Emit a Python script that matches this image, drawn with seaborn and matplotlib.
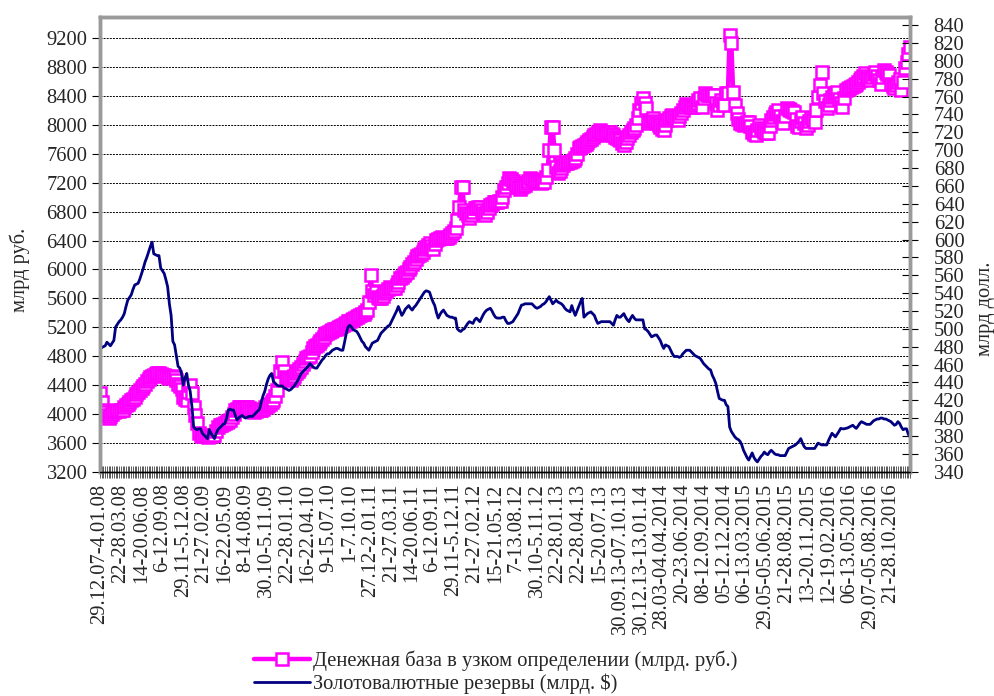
import pandas as pd
import matplotlib
matplotlib.use('Agg')
import matplotlib.pyplot as plt
from matplotlib.ticker import MultipleLocator
import seaborn as sns

# weekly values (12 weeks per row, one row per x label)
base_rub = [
    4285, 4170, 4050, 4030, 3990, 3940, 3970, 4000, 4020, 4040, 4050, 4040,
    4060, 4060, 4090, 4120, 4140, 4170, 4190, 4210, 4240, 4270, 4300, 4330,
    4360, 4390, 4420, 4460, 4490, 4510, 4520, 4540, 4550, 4560, 4560, 4550,
    4540, 4540, 4520, 4510, 4500, 4510, 4520, 4515, 4470, 4420, 4380, 4350,
    4240, 4200, 4190, 4300, 4400, 4285, 4100, 3980, 3870, 3730, 3710, 3700,
    3700, 3690, 3685, 3690, 3700, 3705, 3710, 3760, 3820, 3840, 3850, 3860,
    3870, 3890, 3900, 3920, 3960, 4000, 4050, 4070, 4090, 4100, 4100, 4100,
    4090, 4100, 4080, 4060, 4040, 4030, 4040, 4050, 4050, 4055, 4070, 4090,
    4110, 4120, 4140, 4170, 4190, 4250, 4330, 4470, 4600, 4720, 4600, 4515,
    4500, 4480, 4470, 4500, 4530, 4560, 4590, 4620, 4650, 4690, 4730, 4770,
    4790, 4800, 4860, 4910, 4940, 4960, 4980, 5010, 5040, 5070, 5100, 5120,
    5140, 5150, 5160, 5170, 5180, 5190, 5200, 5215, 5230, 5240, 5260, 5280,
    5290, 5305, 5320, 5330, 5340, 5355, 5370, 5380, 5390, 5410, 5440, 5550,
    5920, 5700, 5650, 5690, 5620, 5600, 5600, 5630, 5670, 5700, 5730, 5760,
    5750, 5740, 5740, 5780, 5830, 5880, 5900, 5920, 5950, 5970, 6000, 6040,
    6080, 6110, 6150, 6180, 6200, 6220, 6245, 6280, 6310, 6340, 6360, 6320,
    6290, 6350, 6410, 6420, 6440, 6450, 6440, 6430, 6430, 6450, 6480, 6500,
    6530, 6570, 6680, 6870, 7140, 7140, 6820, 6780, 6750, 6710, 6760, 6800,
    6845, 6850, 6860, 6870, 6820, 6780, 6750, 6800, 6850, 6890, 6910, 6930,
    6940, 6940, 6945, 6950, 7000, 7100, 7144, 7200, 7260, 7250, 7230, 7200,
    7170, 7140, 7120, 7140, 7160, 7168, 7200, 7230, 7260, 7250, 7240, 7230,
    7214, 7210, 7200, 7210, 7214, 7280, 7376, 7650, 7975, 7975, 7650, 7420,
    7330, 7360, 7400, 7440, 7470, 7480, 7485, 7490, 7500, 7520, 7540, 7600,
    7680, 7700, 7710, 7720, 7740, 7765, 7790, 7810, 7840, 7860, 7880, 7910,
    7930, 7900, 7870, 7860, 7880, 7900, 7906, 7880, 7860, 7837, 7820, 7800,
    7790, 7750, 7720, 7770, 7820, 7860, 7900, 7930, 7960, 7998, 8100, 8206,
    8300, 8368, 8300, 8229, 8022, 8050, 8070, 8091, 8060, 8030, 7998, 7970,
    7950, 7929, 8000, 8067, 8100, 8120, 8137, 8110, 8090, 8067, 8120, 8160,
    8206, 8250, 8298, 8280, 8260, 8250, 8251, 8280, 8310, 8340, 8368, 8251,
    8380, 8437, 8414, 8414, 8414, 8414, 8414, 8300, 8206, 8280, 8344, 8310,
    8275, 8437, 8440, 9244, 9129, 8460, 8275, 8160, 8080, 8022, 8010, 7998,
    8020, 8040, 8045, 7980, 7906, 7880, 7860, 7930, 7998, 7960, 7929, 7900,
    7890, 7884, 7980, 8067, 8110, 8150, 8180, 8206, 8120, 8060, 8022, 8130,
    8229, 8220, 8210, 8200, 8183, 8080, 7990, 7975, 8050, 8113, 8030, 7953,
    8000, 8050, 8091, 8070, 8045, 8206, 8390, 8552, 8736, 8437, 8330, 8229,
    8280, 8340, 8390, 8410, 8440, 8460, 8360, 8300, 8251, 8380, 8483, 8495,
    8506, 8520, 8535, 8552, 8575, 8600, 8621, 8650, 8680, 8714, 8680, 8650,
    8621, 8670, 8710, 8736, 8680, 8620, 8575, 8670, 8760, 8730, 8700, 8690,
    8575, 8540, 8506, 8550, 8600, 8644, 8483, 8600, 8783, 8875, 8980, 9082,
]

reserves_usd = [
    478, 479, 480, 481, 485, 483, 481, 484, 487, 502, 505, 508,
    510, 513, 517, 525, 532, 535, 538, 544, 549, 550, 551, 556,
    562, 568, 575, 580, 586, 592, 597, 584, 583, 582, 582, 568,
    565, 562, 555, 547, 528, 515, 486, 482, 470, 458, 456, 450,
    437, 445, 450, 437, 430, 413, 390, 388, 387, 388, 388, 383,
    381, 379, 377, 387, 383, 380, 377, 383, 387, 389, 391, 393,
    394, 400, 409, 410, 409, 409, 403, 398, 400, 402, 403, 401,
    400, 401, 402, 402, 402, 404, 406, 408, 410, 418, 425, 430,
    438, 444, 448, 450, 441, 439, 437, 436, 436, 436, 434, 433,
    432, 431, 432, 434, 436, 439, 442, 446, 450, 452, 454, 456,
    458, 461, 459, 457, 456, 456, 459, 462, 465, 467, 470, 472,
    472, 474, 476, 477, 478, 478, 477, 476, 476, 485, 495, 502,
    504, 502, 499, 498, 497, 494, 490, 486, 484, 480, 478, 476,
    480, 484, 485, 486, 487, 491, 495, 497, 499, 501, 503, 504,
    508, 512, 516, 520, 525, 520, 515, 518, 522, 524, 526, 523,
    521, 524, 526, 529, 532, 535, 538, 541, 542.5, 542, 541, 535,
    530, 526, 518, 512, 516, 519, 521, 518, 515, 514, 513, 513,
    512, 512, 500, 498, 497, 499, 500, 503, 506, 508, 507, 506,
    510, 512, 510, 508, 512, 516, 519, 521, 522, 523, 520, 516,
    513, 512, 512, 512, 513, 513, 509, 506, 506, 507, 508, 511,
    514, 517, 522, 526.5, 527, 528, 528, 528, 528, 528, 526, 524,
    523, 524, 525, 527, 528, 530, 533, 536, 532, 528, 530, 532,
    530, 529, 528, 526, 523, 521, 520, 519, 526, 520, 515, 520,
    525, 530, 534, 513, 515, 517, 518, 519, 517, 515, 510, 506,
    507, 508, 508, 508, 508, 508, 508, 506, 504, 510, 515, 513,
    513, 515, 517, 513, 510, 508, 512, 515, 512, 510, 510, 510,
    510, 510, 500, 499, 497, 494, 491, 492, 493, 493, 490, 487,
    482, 478, 482, 481, 480, 476, 472, 469, 469, 469, 468, 469,
    472, 474, 476, 476, 476, 474, 472, 470, 469, 468, 467, 464,
    461, 459, 457, 455, 454, 448, 444, 439, 430, 422, 421, 420,
    420, 415, 413, 390, 385, 382, 379, 377, 376, 374, 370, 364,
    360, 356, 353, 357, 361, 356, 353, 351, 354, 357, 359, 362,
    360, 359, 362, 364, 362, 360, 359, 359, 358, 358, 358, 358,
    362, 366, 367, 368, 369, 370, 372, 374, 377, 372, 368, 366,
    366, 366, 366, 366, 366, 369, 372, 371, 370, 370, 370, 370,
    375, 379, 383, 381, 379, 382, 385, 388.5, 388, 388, 388.5, 389,
    390, 391, 392, 390, 388.5, 391, 394, 396, 395, 394, 393, 393,
    393, 395, 397, 398, 399, 399, 400, 400, 399, 399, 398, 397,
    396, 394, 392, 393, 396, 394, 390, 387, 388, 388, 382, 379,
]

week_labels = [
    '29.12.07-4.01.08', '22-28.03.08', '14-20.06.08', '6-12.09.08', '29.11-5.12.08',
    '21-27.02.09', '16-22.05.09', '8-14.08.09', '30.10-5.11.09', '22-28.01.10',
    '16-22.04.10', '9-15.07.10', '1-7.10.10', '27.12-2.01.11', '21-27.03.11',
    '14-20.06.11', '6-12.09.11', '29.11-5.12.11', '21-27.02.12', '15-21.05.12',
    '7-13.08.12', '30.10-5.11.12', '22-28.01.13', '22-28.04.13', '15-20.07.13',
    '30.09.13-07.10.13', '30.12.13-13.01.14', '28.03-04.04.2014', '20-23.06.2014',
    '08-12.09.2014', '05-12.12.2014', '06-13.03.2015', '29.05-05.06.2015',
    '21-28.08.2015', '13-20.11.2015', '12-19.02.2016', '06-13.05.2016',
    '29.07-05.08.2016', '21-28.10.2016',
]

label_base = 'Денежная база в узком определении (млрд. руб.)'
label_res = 'Золотовалютные резервы (млрд. $)'

df = pd.DataFrame({'week': range(len(base_rub)), 'base': base_rub, 'reserves': reserves_usd})

sns.set_theme(style='white')
plt.rcParams['font.family'] = ['Liberation Serif', 'DejaVu Serif']
fs = 14.8

fig = plt.figure(figsize=(9.95, 6.96), dpi=100)
ax = fig.add_axes([0.1005, 0.3223, 0.8141, 0.6537])
ax2 = ax.twinx()

sns.lineplot(data=df, x='week', y='base', ax=ax, color='#FF00FF', linewidth=3.2,
             marker='s', markersize=8, markerfacecolor='white',
             markeredgecolor='#FF00FF', markeredgewidth=1.8, legend=False)
sns.lineplot(data=df, x='week', y='reserves', ax=ax2, color='#000080',
             linewidth=2, legend=False)

# axes ranges and ticks
ax.set_xlim(0, len(base_rub) - 1)
ax.set_ylim(3200, 9500)
ax2.set_ylim(340, 849.5)
ax.set_yticks(range(3200, 9201, 400))
ax2.set_yticks(range(340, 841, 20))
ax.set_xticks(range(0, len(base_rub), 12)[:len(week_labels)])
ax.set_xticklabels(week_labels, rotation=90, fontsize=fs)
ax.xaxis.set_minor_locator(MultipleLocator(1))

ax.tick_params(axis='x', which='both', direction='inout', length=9, width=0.6,
               color='#404040', bottom=True, pad=4)
ax.tick_params(axis='y', direction='out', length=6, width=0.8, color='black',
               left=True, labelsize=fs, pad=3)
ax2.tick_params(axis='y', direction='inout', length=12, width=0.8, color='black',
                right=True, labelsize=fs, pad=11)

ax.yaxis.grid(True, linestyle=(0, (2, 1.2)), color='black', linewidth=0.7)
ax.xaxis.grid(False)
ax2.grid(False)

for a in (ax, ax2):
    for side in ('top', 'left', 'right'):
        a.spines[side].set_color('#9a9a9a')
        a.spines[side].set_linewidth(2.5)
    a.spines['bottom'].set_color('black')
    a.spines['bottom'].set_linewidth(1)

ax.set_xlabel('')
ax.set_ylabel('млрд руб.', fontsize=fs)
ax2.set_ylabel('млрд долл.', fontsize=fs, rotation=90)
ax.yaxis.set_label_coords(-0.086, 0.443)
ax2.yaxis.set_label_coords(1.081, 0.358)

handles = [ax.lines[0], ax2.lines[0]]
fig.legend(handles, [label_base, label_res], loc='center left',
           bbox_to_anchor=(0.245, 0.034), frameon=False, fontsize=fs,
           handlelength=2.7, handletextpad=0.15, labelspacing=0.15, borderpad=0)

fig.savefig('out.png', dpi=100)
